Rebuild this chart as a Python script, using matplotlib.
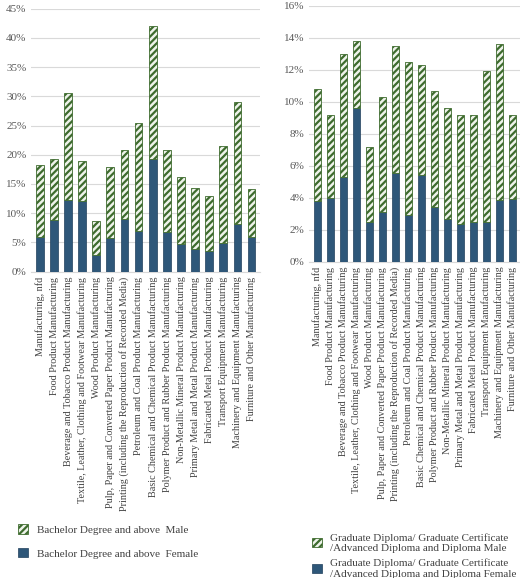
import matplotlib
matplotlib.use("Agg")
import matplotlib.pyplot as plt
import numpy as np

plt.rcParams['font.family'] = ['Liberation Serif', 'DejaVu Serif']
plt.rcParams['hatch.linewidth'] = 1.6

categories = ["Manufacturing, nfd", "Food Product Manufacturing", "Beverage and Tobacco Product Manufacturing",
    "Textile, Leather, Clothing and Footwear Manufacturing", "Wood Product Manufacturing",
    "Pulp, Paper and Converted Paper Product Manufacturing",
    "Printing (including the Reproduction of Recorded Media)", "Petroleum and Coal Product Manufacturing",
    "Basic Chemical and Chemical Product Manufacturing", "Polymer Product and Rubber Product Manufacturing",
    "Non-Metallic Mineral Product Manufacturing", "Primary Metal and Metal Product Manufacturing",
    "Fabricated Metal Product Manufacturing", "Transport Equipment Manufacturing",
    "Machinery and Equipment Manufacturing", "Furniture and Other Manufacturing"]

bach_total = [18.3, 19.3, 30.5, 19.0, 8.7, 17.9, 20.8, 25.5, 42.1, 20.9, 16.2, 14.4, 13.0, 21.5, 29.0, 14.1]
bach_female = [6.0, 8.9, 12.3, 12.1, 2.8, 5.7, 9.0, 6.9, 19.2, 6.8, 4.8, 3.9, 3.5, 4.9, 8.2, 5.9]
dip_total = [10.8, 9.2, 13.0, 13.8, 7.2, 10.3, 13.5, 12.5, 12.3, 10.7, 9.6, 9.2, 9.2, 11.9, 13.6, 9.2]
dip_female = [3.8, 4.0, 5.3, 9.6, 2.5, 3.1, 5.55, 2.9, 5.4, 3.4, 2.7, 2.35, 2.5, 2.5, 3.85, 3.9]

fem_color = '#2e5779'
male_edge = '#3e6b2e'

fig = plt.figure(figsize=(5.2, 5.78), dpi=100)
ax1 = fig.add_axes([0.06, 0.53, 0.44, 0.455])
ax2 = fig.add_axes([0.595, 0.547, 0.405, 0.443])

def draw(ax, total, female, ymax, step, labels):
    x = np.arange(len(categories))
    male = np.array(total) - np.array(female)
    ax.bar(x, female, width=0.55, color=fem_color, edgecolor='#1f3f5c', linewidth=0.5, label=labels[1], zorder=3)
    ax.bar(x, male, bottom=female, width=0.55, color='#eef3ea', edgecolor=male_edge,
           hatch='/////', linewidth=0.6, label=labels[0], zorder=3)
    ax.set_ylim(0, ymax)
    ax.set_xlim(-0.6, len(categories) - 0.4)
    ax.set_yticks(np.arange(0, ymax + 0.01, step))
    ax.set_yticklabels([f"{int(v)}%" for v in np.arange(0, ymax + 0.01, step)], fontsize=8, color='#595959')
    ax.set_xticks(x)
    ax.set_xticklabels(categories, rotation=90, fontsize=7.3, color='#404040')
    ax.tick_params(length=0)
    ax.grid(axis='y', color='#d9d9d9', linewidth=0.8, zorder=0)
    for s in ['top', 'right', 'left']:
        ax.spines[s].set_visible(False)
    ax.spines['bottom'].set_color('#d9d9d9')
    return ax

draw(ax1, bach_total, bach_female, 45, 5, ["Bachelor Degree and above  Male", "Bachelor Degree and above  Female"])
draw(ax2, dip_total, dip_female, 16, 2, ["Graduate Diploma/ Graduate Certificate\n/Advanced Diploma and Diploma Male",
                                        "Graduate Diploma/ Graduate Certificate\n/Advanced Diploma and Diploma Female"])

h, l = ax1.get_legend_handles_labels()
fig.legend(h[::-1], l[::-1], loc='upper left', bbox_to_anchor=(0.015, 0.11), frameon=False,
           fontsize=8, labelspacing=1.2, handlelength=0.9, handleheight=0.9, labelcolor='#404040')
h, l = ax2.get_legend_handles_labels()
fig.legend(h[::-1], l[::-1], loc='upper left', bbox_to_anchor=(0.58, 0.095), frameon=False,
           fontsize=8, labelspacing=0.5, handlelength=0.9, handleheight=0.9, labelcolor='#404040')

fig.savefig("out.png", dpi=100)
